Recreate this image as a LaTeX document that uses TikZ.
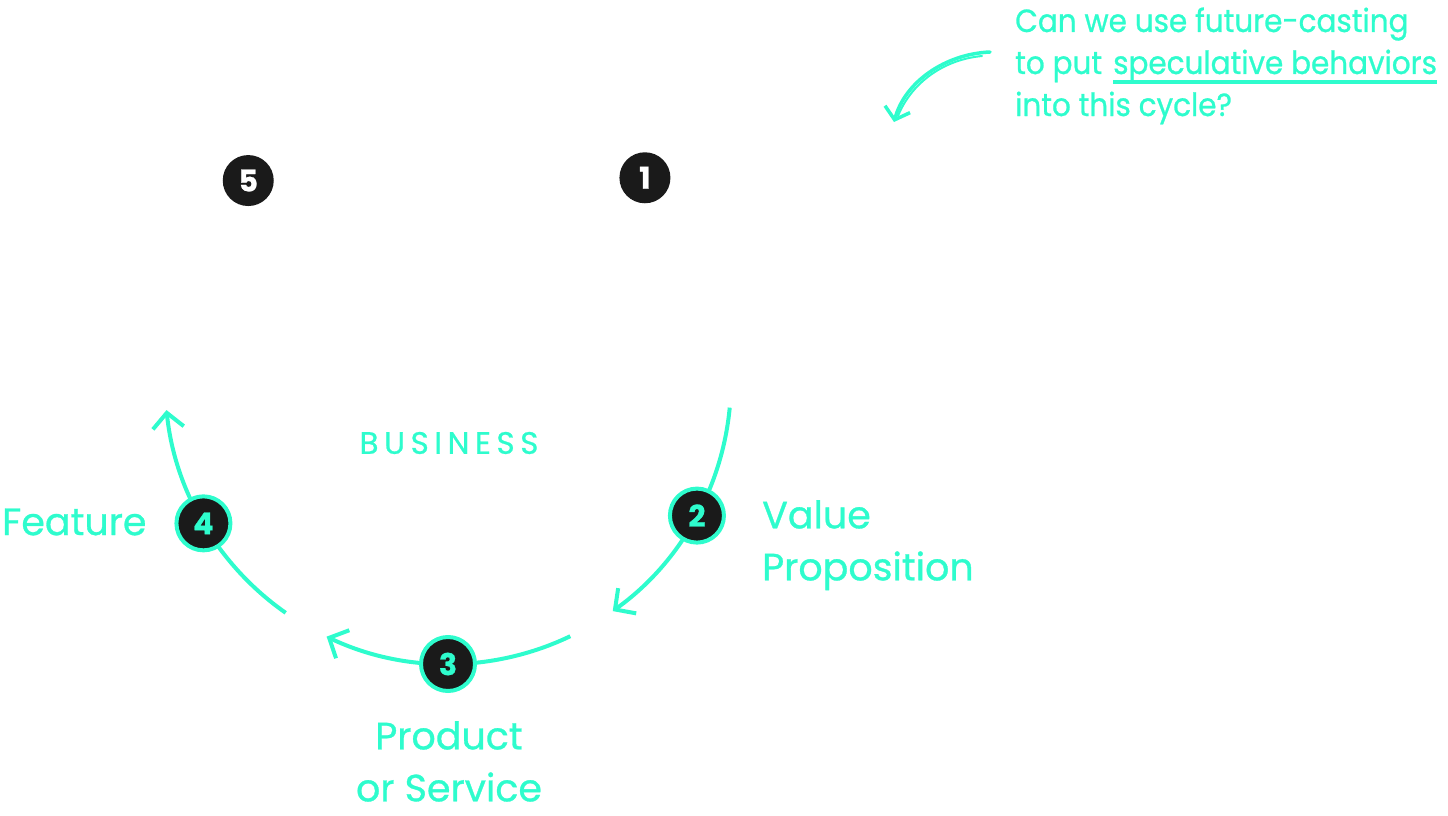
\documentclass[tikz,border=0pt]{standalone}
\usepackage{fontspec}
\setmainfont{Poppins}[FakeBold=0.8]
\usetikzlibrary{arrows.meta,calc}
\definecolor{mint}{RGB}{46,252,205}
\definecolor{ink}{RGB}{26,26,26}
\tikzset{
  cyc/.style={draw=mint, line width=4pt},
  tipped/.style={-{Straight Barb[length=15pt,width=31pt,line width=4pt]}},
  numring/.style={circle, fill=ink, draw=mint, line width=4pt, minimum size=54pt, inner sep=0pt,
    text=mint, font=\fontsize{30}{30}\selectfont\bfseries},
  numplain/.style={circle, fill=ink, minimum size=51pt, inner sep=0pt,
    text=white, font=\fontsize{30}{30}\selectfont\bfseries},
  lbl/.style={text=mint, inner sep=0pt, font=\fontsize{38}{52}\selectfont},
  qtext/.style={text=mint, inner sep=0pt, anchor=base west, font=\fontsize{32}{42}\selectfont\addfontfeature{FakeStretch=0.92}},
  hand/.style={draw=mint, line width=3.5pt, line cap=round},
}
\begin{document}
\begin{tikzpicture}[x=1pt,y=-1pt]
\useasboundingbox (0,0) rectangle (1448,816);
\coordinate (C) at (448,381);
\def\R{283}
% arcs
\coordinate (a1) at ($(C)+(5.4:\R)$);
\coordinate (b1) at ($(C)+(64.4:\R)$);
\coordinate (c1) at ($(C)+(125:\R)$);
\draw[cyc,tipped] (a1) arc[start angle=5.4,end angle=54.4,radius=\R];
\draw[cyc,tipped] (b1) arc[start angle=64.4,end angle=115.4,radius=\R];
\draw[cyc,tipped] (c1) arc[start angle=125,end angle=174.1,radius=\R];
% numbered circles
\node[numplain] (n1) at ($(C)+(-45.9:\R)$) {1};
\node[numplain] (n5) at ($(C)+(-134.9:\R)$) {5};
\node[numring] (n2) at ($(C)+(28.4:\R)$) {2};
\node[numring] (n3) at ($(C)+(90:\R)$) {3};
\node[numring] (n4) at ($(C)+(149.8:\R)$) {4};
% labels
\node[lbl, anchor=north west, align=left] (vp) at (762,500) {Value\\Proposition};
\node[lbl, anchor=north, align=center] (ps) at (449,721) {Product\\or Service};
\node[lbl, anchor=west] (ft) at (2,522) {Feature};
\node[text=mint, inner sep=0pt, font=\fontsize{31}{31}\selectfont\addfontfeature{LetterSpace=18}] (biz) at (449,443) {BUSINESS};
% question
\node[qtext] (q1) at (1015,32) {Can we use future-casting};
\node[qtext] (q2a) at (1015,74) {to put};
\node[qtext] (q2b) at (1113,74) {speculative behaviors};
\node[qtext] (q3) at (1015,116) {into this cycle?};
\draw[draw=mint, line width=3.5pt] ($(q2b.base west)+(0,8)$) -- ($(q2b.base east)+(0,8)$);
% hand-drawn arrow
\coordinate (hs) at (990,52);
\coordinate (he) at (894,122);
\coordinate (hs2) at (982,56);
\coordinate (he2) at (898,116);
\draw[hand,-{Straight Barb[length=11pt,width=26pt,line width=3.5pt]}] (hs) .. controls (945,54) and (905,82) .. (he);
\draw[hand, line width=2pt] (hs2) .. controls (940,60) and (910,86) .. (he2);
\end{tikzpicture}
\end{document}
